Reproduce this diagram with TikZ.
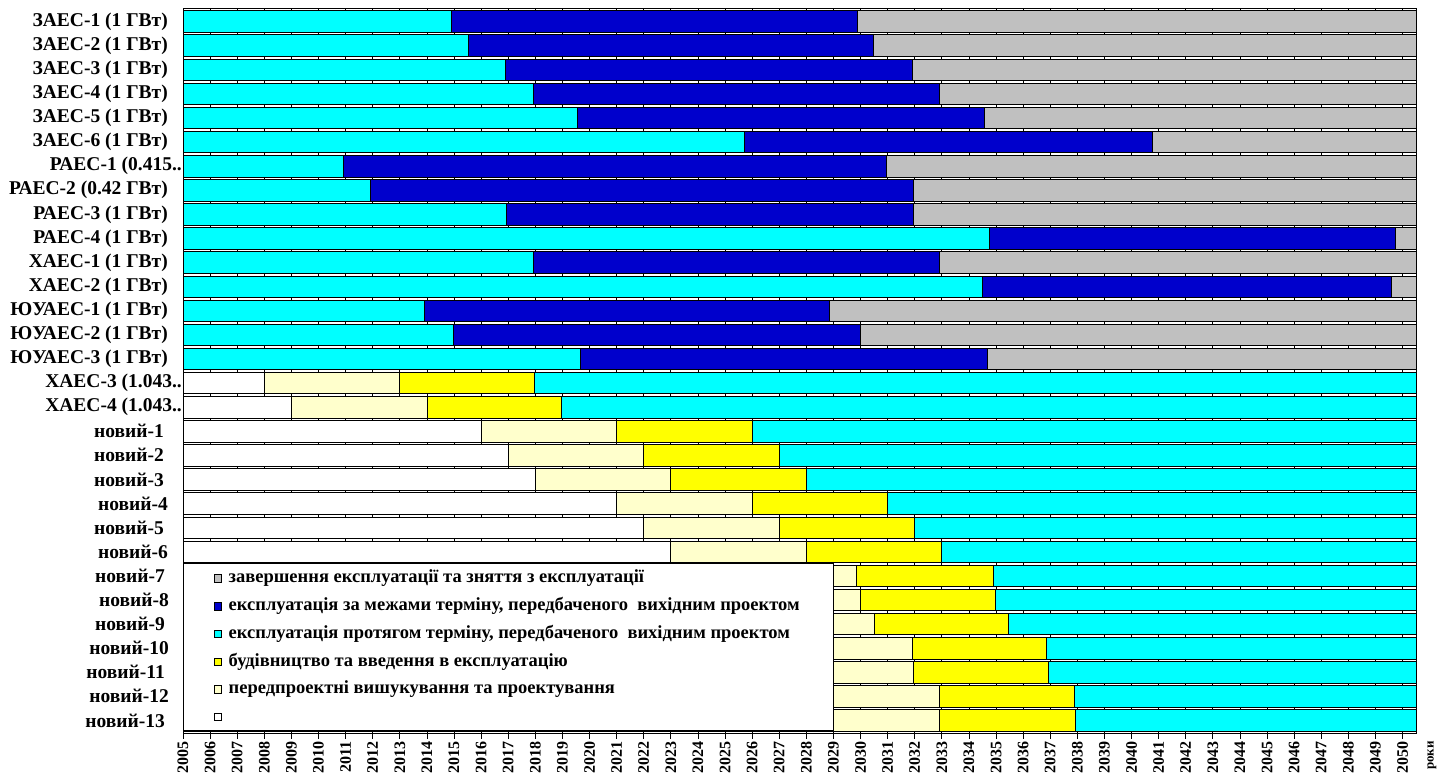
\documentclass[tikz,border=0pt]{standalone}
\usepackage{fontspec}
\setmainfont{Liberation Serif}
\definecolor{cgray}{RGB}{192,192,192}
\definecolor{cblue}{RGB}{0,0,204}
\definecolor{ccyan}{RGB}{0,255,255}
\definecolor{cyel}{RGB}{255,255,0}
\definecolor{cly}{RGB}{255,255,204}
\begin{document}
\begin{tikzpicture}[x=1pt,y=-1pt,
  seg/.style={draw=black,line width=0.8pt},
  tickline/.style={draw=black,line width=0.8pt},
  lab/.style={anchor=east,inner sep=0pt,font=\fontsize{19.5}{20}\selectfont\bfseries},
  yr/.style={rotate=90,anchor=east,inner sep=0pt,font=\fontsize{16}{16}\selectfont\bfseries},
  legtxt/.style={anchor=west,inner sep=0pt,font=\fontsize{18.5}{19}\selectfont\bfseries},
  legsq/.style={draw=black,line width=0.6pt,minimum size=7.5pt,inner sep=0pt}]
\useasboundingbox (0,0) rectangle (1447,781);
% strips with ticks
\foreach \k in {0,...,30}{
  \pgfmathsetmacro\ya{8.2+24.1*\k}
  \pgfmathsetmacro\yb{\ya+2.6}
  \draw[tickline] (183,\ya) -- (1416,\ya);
  \draw[tickline] (183,\yb) -- (1416,\yb);
  \foreach \t in {0,...,45}{
    \draw[tickline] (183+27.1*\t,\ya) -- (183+27.1*\t,\yb);
  }
  \draw[tickline] (1416,\ya) -- (1416,\yb);
}
% operating units
\foreach \lab/\lx/\a/\b [count=\i from 0] in {
  {ЗАЕС-1 (1 ГВт)}/168/9.91/24.89,
  {ЗАЕС-2 (1 ГВт)}/168/10.52/25.49,
  {ЗАЕС-3 (1 ГВт)}/168/11.88/26.90,
  {ЗАЕС-4 (1 ГВт)}/168/12.93/27.90,
  {ЗАЕС-5 (1 ГВт)}/168/14.56/29.58,
  {ЗАЕС-6 (1 ГВт)}/168/20.72/35.77,
  {РАЕС-1 (0.415..}/182/5.92/25.96,
  {РАЕС-2 (0.42 ГВт)}/168/6.93/26.95,
  {РАЕС-3 (1 ГВт)}/168/11.92/26.95,
  {РАЕС-4 (1 ГВт)}/168/29.74/44.73,
  {ХАЕС-1 (1 ГВт)}/168/12.93/27.90,
  {ХАЕС-2 (1 ГВт)}/168/29.51/44.58,
  {ЮУАЕС-1 (1 ГВт)}/168/8.89/23.87,
  {ЮУАЕС-2 (1 ГВт)}/168/9.96/24.99,
  {ЮУАЕС-3 (1 ГВт)}/168/14.66/29.70}{
  \pgfmathsetmacro\yt{10.8+24.1*\i}
  \pgfmathsetmacro\yb{\yt+21.5}
  \pgfmathsetmacro\yc{\yt+10.75}
  \draw[seg,fill=ccyan] (183,\yt) rectangle (183+27.1*\a,\yb);
  \draw[seg,fill=cblue] (183+27.1*\a,\yt) rectangle (183+27.1*\b,\yb);
  \draw[seg,fill=cgray] (183+27.1*\b,\yt) rectangle (1416,\yb);
  \node[lab] (r\i) at (\lx,\yc) {\lab};
}
% new units
\foreach \lab/\lx/\p/\q/\r [count=\j from 15] in {
  {ХАЕС-3 (1.043..}/182/3/8/12.95,
  {ХАЕС-4 (1.043..}/182/4/9/13.95,
  {новий-1}/164/11/16/21,
  {новий-2}/164/12/17/22,
  {новий-3}/164/13/18/23,
  {новий-4}/168/16/21/26,
  {новий-5}/164/17/22/27,
  {новий-6}/168/18/23/28,
  {новий-7}/165/19.86/24.86/29.90,
  {новий-8}/169/20/25/29.96,
  {новий-9}/165/20.5/25.5/30.47,
  {новий-10}/169/21.9/26.9/31.87,
  {новий-11}/165/21.95/26.95/31.94,
  {новий-12}/169/22.9/27.9/32.88,
  {новий-13}/165/22.91/27.91/32.94}{
  \pgfmathsetmacro\yt{10.8+24.1*\j}
  \pgfmathsetmacro\yb{\yt+21.5}
  \pgfmathsetmacro\yc{\yt+10.75}
  \draw[seg,fill=white] (183,\yt) rectangle (183+27.1*\p,\yb);
  \draw[seg,fill=cly] (183+27.1*\p,\yt) rectangle (183+27.1*\q,\yb);
  \draw[seg,fill=cyel] (183+27.1*\q,\yt) rectangle (183+27.1*\r,\yb);
  \draw[seg,fill=ccyan] (183+27.1*\r,\yt) rectangle (1416,\yb);
  \node[lab] (r\j) at (\lx,\yc) {\lab};
}
% axis ticks below
\foreach \t in {0,...,45}{
  \draw[tickline] (183+27.1*\t,731.2) -- (183+27.1*\t,739);
  \pgfmathtruncatemacro\yy{2005+\t}
  \node[yr] (y\t) at (183+27.1*\t,741) {\yy};
}
\node[yr,font=\fontsize{13}{13}\selectfont\bfseries] (roky) at (1432,741) {роки};
% legend
\node[draw=black,fill=white,line width=1.4pt,anchor=north west,minimum width=650pt,minimum height=167pt,inner sep=0pt] (legend) at (183,563) {};
\foreach \c/\txt [count=\m from 0] in {
  cgray/{завершення експлуатації та зняття з експлуатації},
  cblue/{експлуатація за межами терміну, передбаченого\ \ вихідним проектом},
  ccyan/{експлуатація протягом терміну, передбаченого\ \ вихідним проектом},
  cyel/{будівництво та введення в експлуатацію},
  cly/{передпроектні вишукування та проектування},
  white/{}}{
  \pgfmathsetmacro\ly{578.5+27.7*\m}
  \node[legsq,fill=\c] (sq\m) at (218,\ly) {};
  \node[legtxt] (lt\m) at (228.5,\ly) {\txt};
}
\end{tikzpicture}
\end{document}
